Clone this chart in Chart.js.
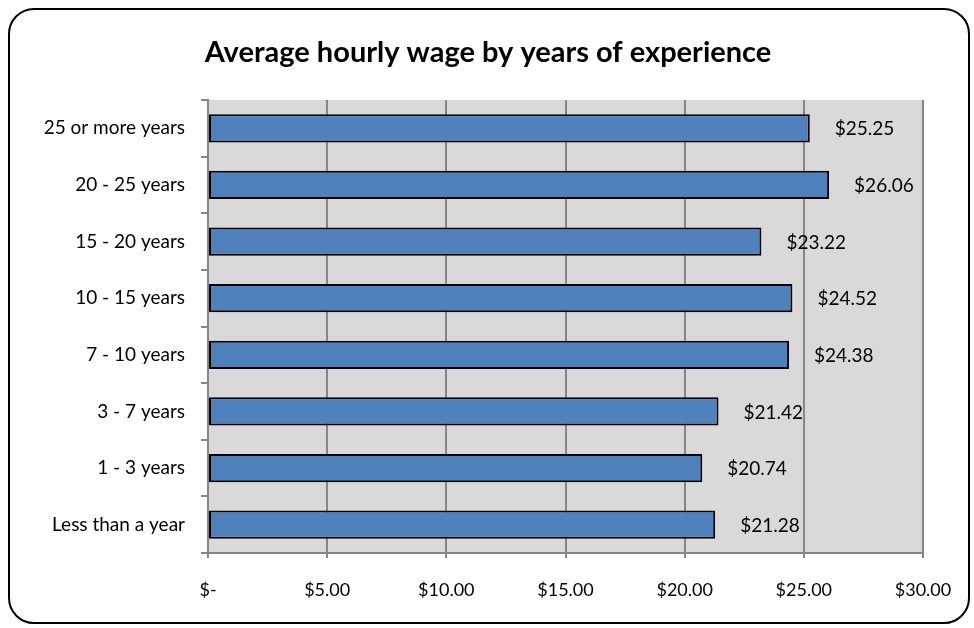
<!DOCTYPE html>
<html>
<head>
<meta charset="utf-8">
<script src="https://cdn.jsdelivr.net/npm/chart.js@4"></script>
<style>
  html, body { margin: 0; padding: 0; background: #fff; }
  #wrap { position: relative; width: 974px; height: 628px; }
  #frame {
    position: absolute; left: 8px; top: 8px; width: 962px; height: 616px;
    border: 2px solid #000; border-radius: 26px; box-sizing: border-box;
  }
  canvas { position: absolute; left: 0; top: 0; }
</style>
</head>
<body>
<div id="wrap">
  <div id="frame"></div>
  <canvas id="chart" width="974" height="628"></canvas>
</div>
<script>
// Data (top to bottom as drawn)
const categories = ['25 or more years', '20 - 25 years', '15 - 20 years', '10 - 15 years',
                    '7 - 10 years', '3 - 7 years', '1 - 3 years', 'Less than a year'];
const wages = [25.25, 26.06, 23.22, 24.52, 24.38, 21.42, 20.74, 21.28];
const axisMax = 30;
const axisStep = 5;
const chartTitle = 'Average hourly wage by years of experience';

const fontFamily = 'Lato, "Open Sans", sans-serif';
const gridGray = '#868686';

function money(v) {
    return v === 0 ? '$-' : '$' + v.toFixed(2);
}

// grey plot background + title centred on the whole frame
const plotBg = {
    id: 'plotBg',
    beforeDraw(chart) {
        const a = chart.chartArea;
        const c = chart.ctx;
        c.save();
        c.fillStyle = '#d9d9d9';
        c.fillRect(a.left, a.top, a.right - a.left, a.bottom - a.top);
        c.fillStyle = '#000';
        c.font = 'bold 29px ' + fontFamily;
        c.textAlign = 'center';
        c.textBaseline = 'middle';
        c.fillText(chartTitle, 488, 53);
        c.restore();
    }
};

// value labels right of each bar
const valueLabels = {
    id: 'valueLabels',
    afterDatasetsDraw(chart) {
        const c = chart.ctx;
        const meta = chart.getDatasetMeta(0);
        c.save();
        c.font = '19px ' + fontFamily;
        c.fillStyle = '#000';
        c.textAlign = 'left';
        c.textBaseline = 'middle';
        meta.data.forEach((bar, i) => {
            c.fillText(money(wages[i]), bar.x + 25, bar.y + 1);
        });
        c.restore();
    }
};

const ctx = document.getElementById('chart').getContext('2d');
const chart = new Chart(ctx, {
    type: 'bar',
    data: {
        labels: categories,
        datasets: [{
            data: wages,
            backgroundColor: '#4f81bd',
            borderColor: '#000',
            borderWidth: 2,
            borderSkipped: false,
            categoryPercentage: 1,
            barPercentage: 0.5
        }]
    },
    options: {
        indexAxis: 'y',
        responsive: false,
        animation: false,
        layout: { padding: { left: 0, right: 51, top: 100, bottom: 0 } },
        plugins: {
            legend: { display: false },
            tooltip: { enabled: false },
            title: { display: false }
        },
        scales: {
            x: {
                min: 0,
                max: axisMax,
                ticks: {
                    stepSize: axisStep,
                    color: '#000',
                    font: { family: fontFamily, size: 18 },
                    padding: 21,
                    callback: v => money(v)
                },
                grid: { color: gridGray, lineWidth: 2, tickLength: 5 },
                border: { color: gridGray, width: 2 },
                afterFit(scale) { scale.height = 75; }
            },
            y: {
                ticks: {
                    color: '#000',
                    font: { family: fontFamily, size: 19 },
                    padding: 16
                },
                grid: { color: gridGray, lineWidth: 2, drawOnChartArea: false, tickLength: 7 },
                border: { color: gridGray, width: 2 },
                afterFit(scale) { scale.width = 208; }
            }
        }
    },
    plugins: [plotBg, valueLabels]
});
</script>
</body>
</html>
